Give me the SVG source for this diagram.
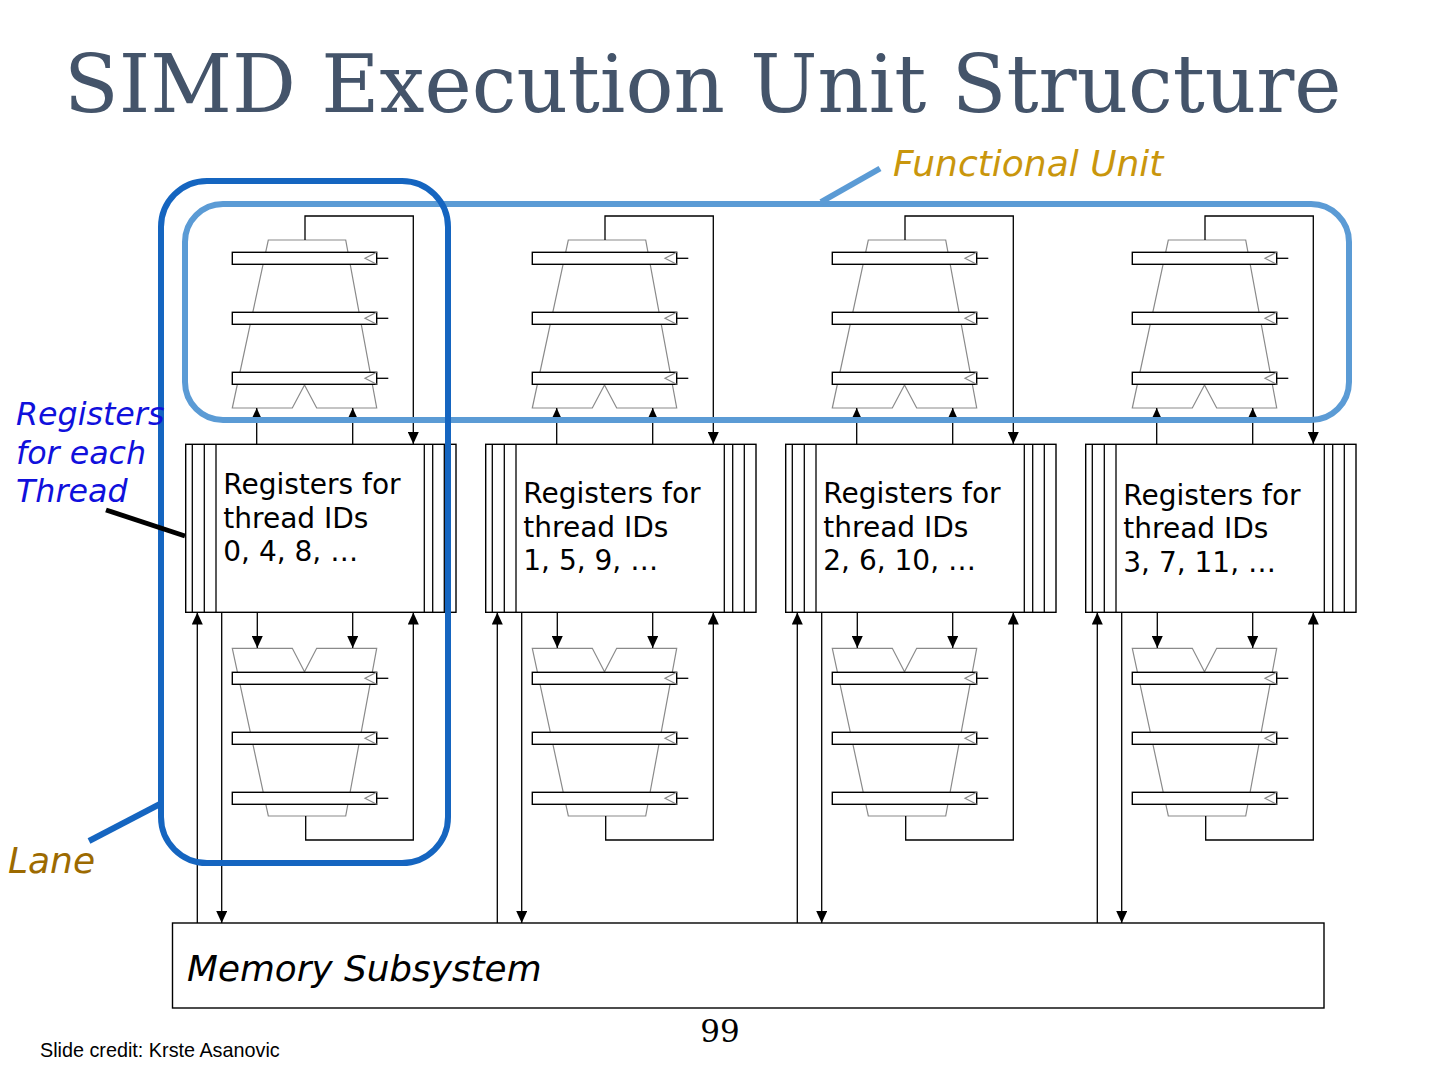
<svg xmlns="http://www.w3.org/2000/svg" xmlns:xlink="http://www.w3.org/1999/xlink" width="1440" height="1080" viewBox="0 0 1440 1080">
<style>
.alu{fill:#fff;stroke:#8a8a8a;stroke-width:1.2}
.reg{fill:#fff;stroke:#000;stroke-width:1.4}
.clk{fill:none;stroke:#8a8a8a;stroke-width:1.2}
.wire{fill:none;stroke:#000;stroke-width:1.3}
.rf{fill:#fff;stroke:#000;stroke-width:1.4}
.rfl{stroke:#000;stroke-width:1.3}
.rft{font-family:"DejaVu Sans",sans-serif;font-size:28px;fill:#000}
.lbl{font-family:"DejaVu Sans",sans-serif;font-style:italic}
</style>
<defs>
<marker id="ah" markerWidth="12" markerHeight="11" refX="12" refY="5.5" orient="auto" markerUnits="userSpaceOnUse">
<path d="M0,0 L12,5.5 L0,11 Z" fill="#000"/>
</marker>
<g id="preg">
<rect class="reg" x="0" y="0" width="144.4" height="12"/>
<polyline class="clk" points="144.4,0 132.7,6 144.4,12"/>
<line class="wire" x1="144.4" y1="6" x2="156" y2="6"/>
</g>
<g id="alutop">
<path class="alu" d="M268.3,240 H345.7 L376.7,408 H316.7 L304.5,385 L292.3,408 H232.3 Z"/>
<use xlink:href="#preg" x="232.3" y="252.3"/>
<use xlink:href="#preg" x="232.3" y="312.3"/>
<use xlink:href="#preg" x="232.3" y="372.3"/>
</g>
<g id="alubot">
<path class="alu" d="M232.3,648.3 H292.3 L304.5,671.7 L316.7,648.3 H376.7 L345.7,816 H268.3 Z"/>
<use xlink:href="#preg" x="232.3" y="672.3"/>
<use xlink:href="#preg" x="232.3" y="732.3"/>
<use xlink:href="#preg" x="232.3" y="792.3"/>
</g>
<g id="rfbox">
<rect class="rf" x="185.7" y="444.3" width="270.3" height="168"/>
<line class="rfl" x1="192.3" y1="444.3" x2="192.3" y2="612.3"/>
<line class="rfl" x1="204.3" y1="444.3" x2="204.3" y2="612.3"/>
<line class="rfl" x1="216" y1="444.3" x2="216" y2="612.3"/>
<line class="rfl" x1="424.3" y1="444.3" x2="424.3" y2="612.3"/>
<line class="rfl" x1="432.7" y1="444.3" x2="432.7" y2="612.3"/>
<line class="rfl" x1="444.3" y1="444.3" x2="444.3" y2="612.3"/>
</g>
</defs>
<rect width="1440" height="1080" fill="#fff"/>

<text id="title" x="64" y="112" font-family="DejaVu Serif,serif" font-size="79.8" fill="#44546a">SIMD Execution Unit Structure</text>

<g id="lane0-fu-top"><use xlink:href="#alutop"/></g>
<g id="lane1-fu-top" transform="translate(300,0)"><use xlink:href="#alutop"/></g>
<g id="lane2-fu-top" transform="translate(600,0)"><use xlink:href="#alutop"/></g>
<g id="lane3-fu-top" transform="translate(900,0)"><use xlink:href="#alutop"/></g>

<g id="lane0-regs"><use xlink:href="#rfbox"/>
<text class="rft" x="223.3"><tspan x="223.3" y="494">Registers for</tspan><tspan x="223.3" y="527.5">thread IDs</tspan><tspan x="223.3" y="561">0, 4, 8, …</tspan></text></g>
<g id="lane1-regs" transform="translate(300,0)"><use xlink:href="#rfbox"/>
<text class="rft" x="223.3"><tspan x="223.3" y="503">Registers for</tspan><tspan x="223.3" y="536.5">thread IDs</tspan><tspan x="223.3" y="570">1, 5, 9, …</tspan></text></g>
<g id="lane2-regs" transform="translate(600,0)"><use xlink:href="#rfbox"/>
<text class="rft" x="223.3"><tspan x="223.3" y="503">Registers for</tspan><tspan x="223.3" y="536.5">thread IDs</tspan><tspan x="223.3" y="570">2, 6, 10, …</tspan></text></g>
<g id="lane3-regs" transform="translate(900,0)"><use xlink:href="#rfbox"/>
<text class="rft" x="223.3"><tspan x="223.3" y="504.5">Registers for</tspan><tspan x="223.3" y="538">thread IDs</tspan><tspan x="223.3" y="571.5">3, 7, 11, …</tspan></text></g>

<g id="lane0-fu-bot"><use xlink:href="#alubot"/></g>
<g id="lane1-fu-bot" transform="translate(300,0)"><use xlink:href="#alubot"/></g>
<g id="lane2-fu-bot" transform="translate(600,0)"><use xlink:href="#alubot"/></g>
<g id="lane3-fu-bot" transform="translate(900,0)"><use xlink:href="#alubot"/></g>

<g id="memory">
<rect x="172.5" y="923" width="1151.5" height="85" fill="#fff" stroke="#000" stroke-width="1.4"/>
<text class="lbl" x="187" y="980.5" font-size="35.8" fill="#000">Memory Subsystem</text>
</g>

<g id="connectors">
<g id="conn-lane0">
<polyline class="wire" points="305,240 305,216 413.3,216 413.3,444" marker-end="url(#ah)"/>
<line class="wire" x1="256.7" y1="444" x2="256.7" y2="408" marker-end="url(#ah)"/>
<line class="wire" x1="352.7" y1="444" x2="352.7" y2="408" marker-end="url(#ah)"/>
<line class="wire" x1="257.3" y1="612" x2="257.3" y2="648" marker-end="url(#ah)"/>
<line class="wire" x1="352.7" y1="612" x2="352.7" y2="648" marker-end="url(#ah)"/>
<polyline class="wire" points="305.7,816 305.7,840 413.3,840 413.3,612.5" marker-end="url(#ah)"/>
<line class="wire" x1="197.3" y1="923" x2="197.3" y2="612.5" marker-end="url(#ah)"/>
<line class="wire" x1="221.7" y1="612" x2="221.7" y2="923" marker-end="url(#ah)"/>
</g>
<g id="conn-lane1" transform="translate(300,0)">
<polyline class="wire" points="305,240 305,216 413.3,216 413.3,444" marker-end="url(#ah)"/>
<line class="wire" x1="256.7" y1="444" x2="256.7" y2="408" marker-end="url(#ah)"/>
<line class="wire" x1="352.7" y1="444" x2="352.7" y2="408" marker-end="url(#ah)"/>
<line class="wire" x1="257.3" y1="612" x2="257.3" y2="648" marker-end="url(#ah)"/>
<line class="wire" x1="352.7" y1="612" x2="352.7" y2="648" marker-end="url(#ah)"/>
<polyline class="wire" points="305.7,816 305.7,840 413.3,840 413.3,612.5" marker-end="url(#ah)"/>
<line class="wire" x1="197.3" y1="923" x2="197.3" y2="612.5" marker-end="url(#ah)"/>
<line class="wire" x1="221.7" y1="612" x2="221.7" y2="923" marker-end="url(#ah)"/>
</g>
<g id="conn-lane2" transform="translate(600,0)">
<polyline class="wire" points="305,240 305,216 413.3,216 413.3,444" marker-end="url(#ah)"/>
<line class="wire" x1="256.7" y1="444" x2="256.7" y2="408" marker-end="url(#ah)"/>
<line class="wire" x1="352.7" y1="444" x2="352.7" y2="408" marker-end="url(#ah)"/>
<line class="wire" x1="257.3" y1="612" x2="257.3" y2="648" marker-end="url(#ah)"/>
<line class="wire" x1="352.7" y1="612" x2="352.7" y2="648" marker-end="url(#ah)"/>
<polyline class="wire" points="305.7,816 305.7,840 413.3,840 413.3,612.5" marker-end="url(#ah)"/>
<line class="wire" x1="197.3" y1="923" x2="197.3" y2="612.5" marker-end="url(#ah)"/>
<line class="wire" x1="221.7" y1="612" x2="221.7" y2="923" marker-end="url(#ah)"/>
</g>
<g id="conn-lane3" transform="translate(900,0)">
<polyline class="wire" points="305,240 305,216 413.3,216 413.3,444" marker-end="url(#ah)"/>
<line class="wire" x1="256.7" y1="444" x2="256.7" y2="408" marker-end="url(#ah)"/>
<line class="wire" x1="352.7" y1="444" x2="352.7" y2="408" marker-end="url(#ah)"/>
<line class="wire" x1="257.3" y1="612" x2="257.3" y2="648" marker-end="url(#ah)"/>
<line class="wire" x1="352.7" y1="612" x2="352.7" y2="648" marker-end="url(#ah)"/>
<polyline class="wire" points="305.7,816 305.7,840 413.3,840 413.3,612.5" marker-end="url(#ah)"/>
<line class="wire" x1="197.3" y1="923" x2="197.3" y2="612.5" marker-end="url(#ah)"/>
<line class="wire" x1="221.7" y1="612" x2="221.7" y2="923" marker-end="url(#ah)"/>
</g>
</g>

<g id="fu-outline">
<rect x="185" y="204" width="1164" height="216" rx="38" ry="38" fill="none" stroke="#5b9bd5" stroke-width="6"/>
<line x1="880" y1="168.5" x2="821" y2="202" stroke="#5b9bd5" stroke-width="6"/>
<text class="lbl" x="893" y="176" font-size="36" fill="#c9960c">Functional Unit</text>
</g>

<g id="lane-outline">
<rect x="161" y="181" width="287" height="682" rx="46" ry="46" fill="none" stroke="#1565c0" stroke-width="6"/>
<line x1="89" y1="841" x2="160" y2="804" stroke="#1565c0" stroke-width="6"/>
<text class="lbl" x="8" y="873" font-size="36" fill="#9c6a00">Lane</text>
</g>

<g id="regs-label">
<line x1="106" y1="510" x2="185" y2="536" stroke="#000" stroke-width="5"/>
<text class="lbl" font-size="31.7" fill="#1010dc"><tspan x="16" y="425">Registers</tspan><tspan x="16" y="463.5">for each</tspan><tspan x="16" y="502">Thread</tspan></text>
</g>

<text id="page-number" x="720" y="1041.5" text-anchor="middle" font-family="DejaVu Serif,serif" font-size="31" fill="#000">99</text>
<text id="credit" x="40" y="1057" font-family="Liberation Sans,Arial,sans-serif" font-size="19.8" fill="#000">Slide credit: Krste Asanovic</text>
</svg>
